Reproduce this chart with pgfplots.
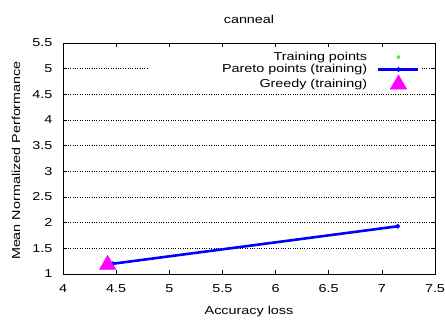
\documentclass[border=0pt]{standalone}
\usepackage{pgfplots}
\pgfplotsset{compat=1.18}
\usepackage{fontspec}
\setmainfont[FakeStretch=1.25]{Liberation Sans}
\definecolor{gmag}{RGB}{255,0,255}
\definecolor{gblue}{RGB}{0,0,255}
\definecolor{ggreen}{RGB}{0,230,0}
\begin{document}
\begin{tikzpicture}
\begin{axis}[
  scale only axis,
  width=372bp, height=231bp,
  xmin=4, xmax=7.5, ymin=1, ymax=5.5,
  xtick={4,4.5,...,7.5}, ytick={1,1.5,...,5.5},
  xticklabels={4,4.5,5,5.5,6,6.5,7,7.5},
  yticklabels={1,1.5,2,2.5,3,3.5,4,4.5,5,5.5},
  tick align=inside, major tick length=4bp,
  tick style={black, line width=0.6pt},
  axis line style={black, line width=0.8pt},
  ymajorgrids, major grid style={black, dotted, line width=0.6pt},
  font=\fontsize{11.5bp}{13bp}\selectfont,
  tick label style={font=\fontsize{11.5bp}{13bp}\selectfont},
  xticklabel style={yshift=-7bp},
  yticklabel style={xshift=-7bp},
  xlabel={Accuracy loss}, ylabel={Mean Normalized Performance},
  every axis x label/.style={at={([yshift=-38bp]rel axis cs:0.5,0)}, anchor=center},
  every axis y label/.style={at={([xshift=-47bp, yshift=-2bp]rel axis cs:0,0.5)}, anchor=center, rotate=90},
  title={canneal}, every axis title/.style={at={([yshift=24bp]rel axis cs:0.5,1)}, anchor=center},
  legend style={at={(rel axis cs:1,1)}, anchor=north east, draw=none, fill=white,
    font=\fontsize{11.5bp}{12bp}\selectfont, row sep=-1.5bp, inner sep=1bp,
    column sep=8bp, xshift=-14bp, yshift=-6bp,
    /tikz/every odd column/.append style={nodes={text width=216bp, align=right}}},
  legend plot pos=right, legend cell align=right,
  legend image code/.code={\draw[mark repeat=2,mark phase=2,#1] plot coordinates {(0bp,0bp) (20bp,0bp) (40bp,0bp)};},
]
\addlegendimage{only marks, mark=o, mark size=1.6bp, color=ggreen, mark options={line width=0.7pt}}
\addlegendentry{Training points}
\addplot[gblue, line width=2.6bp, mark=*, mark size=0.8bp] coordinates {(4.47,1.2) (7.15,1.93)};
\addlegendentry{Pareto points (training)}
\addplot[only marks, mark=triangle*, mark size=9.5bp, color=gmag, mark options={fill=gmag, draw=gmag}] coordinates {(4.42,1.18)};
\addlegendentry{Greedy (training)}
\end{axis}
\pgfresetboundingbox
\path (-63bp,-49bp) rectangle (382bp,274bp);
\end{tikzpicture}
\end{document}
